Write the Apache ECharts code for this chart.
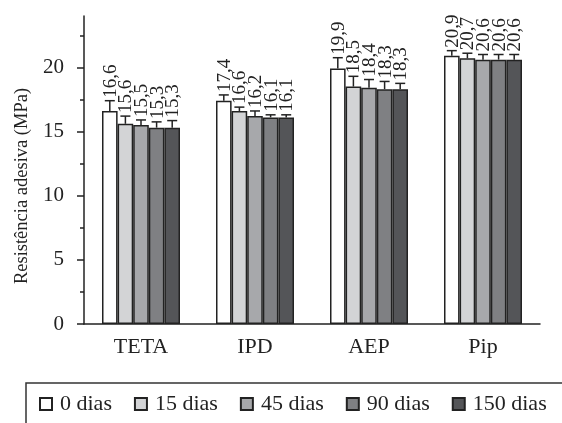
<!DOCTYPE html>
<html>
<head>
<meta charset="utf-8">
<script src="https://cdn.jsdelivr.net/npm/echarts@6/dist/echarts.min.js"></script>
<style>html,body{margin:0;padding:0;background:#fff}#c{width:562px;height:423px}</style>
</head>
<body>
<div id="c"></div>
<script>
const categories = ['TETA', 'IPD', 'AEP', 'Pip'];
const seriesNames = ['0 dias', '15 dias', '45 dias', '90 dias', '150 dias'];
const values0 = [16.6, 17.4, 19.9, 20.9];
const values15 = [15.6, 16.6, 18.5, 20.7];
const values45 = [15.5, 16.2, 18.4, 20.6];
const values90 = [15.3, 16.1, 18.3, 20.6];
const values150 = [15.3, 16.1, 18.3, 20.6];
const err0 = [0.8, 0.45, 0.85, 0.4];
const err15 = [0.6, 0.3, 0.8, 0.4];
const err45 = [0.4, 0.4, 0.65, 0.4];
const err90 = [0.45, 0.2, 0.6, 0.4];
const err150 = [0.55, 0.2, 0.45, 0.4];
const yMajorTicks = [0, 5, 10, 15, 20];
const yMinorTicks = [2.5, 7.5, 12.5, 17.5, 22.5];

const allValues = [values0, values15, values45, values90, values150];
const allErrs = [err0, err15, err45, err90, err150];
const colors = ['#ffffff', '#d3d4d6', '#a7a8ab', '#7f8083', '#545558'];
const BAR_W = 15.6;
const FONT = 'Liberation Serif';
const INK = '#222';

const series = [];
allValues.forEach((vals, i) => {
  series.push({
    name: seriesNames[i],
    type: 'bar',
    barWidth: BAR_W,
    barGap: '0%',
    data: vals,
    itemStyle: { color: colors[i], borderColor: INK, borderWidth: 1.5 },
    z: 2
  });
});
allValues.forEach((vals, i) => {
  series.push({
    type: 'custom',
    z: 5,
    silent: true,
    data: vals.map((v, k) => [k, v, allErrs[i][k]]),
    encode: { x: 0, y: 1 },
    renderItem: function (params, api) {
      const ci = api.value(0), v = api.value(1), e = api.value(2);
      const base = api.coord([ci, v]);
      const top = api.coord([ci, v + e]);
      const x = base[0] + (i - 2) * BAR_W;
      const cap = 5;
      const st = { stroke: INK, lineWidth: 1.5 };
      return {
        type: 'group',
        children: [
          { type: 'line', shape: { x1: x, y1: base[1], x2: x, y2: top[1] }, style: st },
          { type: 'line', shape: { x1: x - cap, y1: top[1], x2: x + cap, y2: top[1] }, style: st },
          {
            type: 'text', x: x + 1, y: top[1] - 3, rotation: Math.PI / 2,
            style: {
              text: v.toFixed(1).replace('.', ','), fill: INK,
              font: '19px "' + FONT + '"', textAlign: 'left', textVerticalAlign: 'middle'
            }
          }
        ]
      };
    }
  });
});

const chart = echarts.init(document.getElementById('c'), null, { renderer: 'canvas' });
chart.setOption({
  animation: false,
  backgroundColor: '#fff',
  textStyle: { fontFamily: FONT, color: INK },
  grid: { left: 84, right: 22, top: 16, bottom: 99, containLabel: false },
  legend: {
    data: seriesNames,
    left: 34, top: 388,
    icon: 'rect', itemWidth: 12, itemHeight: 12, itemGap: 22,
    textStyle: { fontFamily: FONT, fontSize: 22, color: INK, padding: [0, 0, 0, 3] }
  },
  graphic: [{
    type: 'rect', silent: true,
    shape: { x: 26, y: 383, width: 600, height: 100 },
    style: { fill: 'none', stroke: '#333', lineWidth: 1.5 }
  }],
  xAxis: {
    type: 'category', data: categories,
    axisLine: { lineStyle: { color: INK, width: 1.5 } },
    axisTick: { show: false },
    axisLabel: { fontFamily: FONT, fontSize: 22, color: INK, margin: 12 }
  },
  yAxis: [{
    type: 'value', min: 0, max: 24, interval: 5,
    name: 'Resistência adesiva (MPa)', nameLocation: 'middle', nameGap: 52,
    nameTextStyle: { fontFamily: FONT, fontSize: 18.5, color: INK, padding: [0, 32, 0, 0] },
    axisLine: { show: true, lineStyle: { color: INK, width: 1.5 } },
    axisTick: { show: true, length: 7, customValues: yMajorTicks, lineStyle: { color: INK, width: 1.5 } },
    axisLabel: { fontFamily: FONT, fontSize: 21, color: INK, margin: 20, customValues: yMajorTicks },
    splitLine: { show: false }
  }, {
    type: 'value', min: 0, max: 24, interval: 2.5, position: 'left',
    axisLine: { show: false },
    axisTick: { show: true, length: 4, customValues: yMinorTicks, lineStyle: { color: INK, width: 1.5 } },
    axisLabel: { show: false },
    splitLine: { show: false }
  }],
  series: series
});
</script>
</body>
</html>
